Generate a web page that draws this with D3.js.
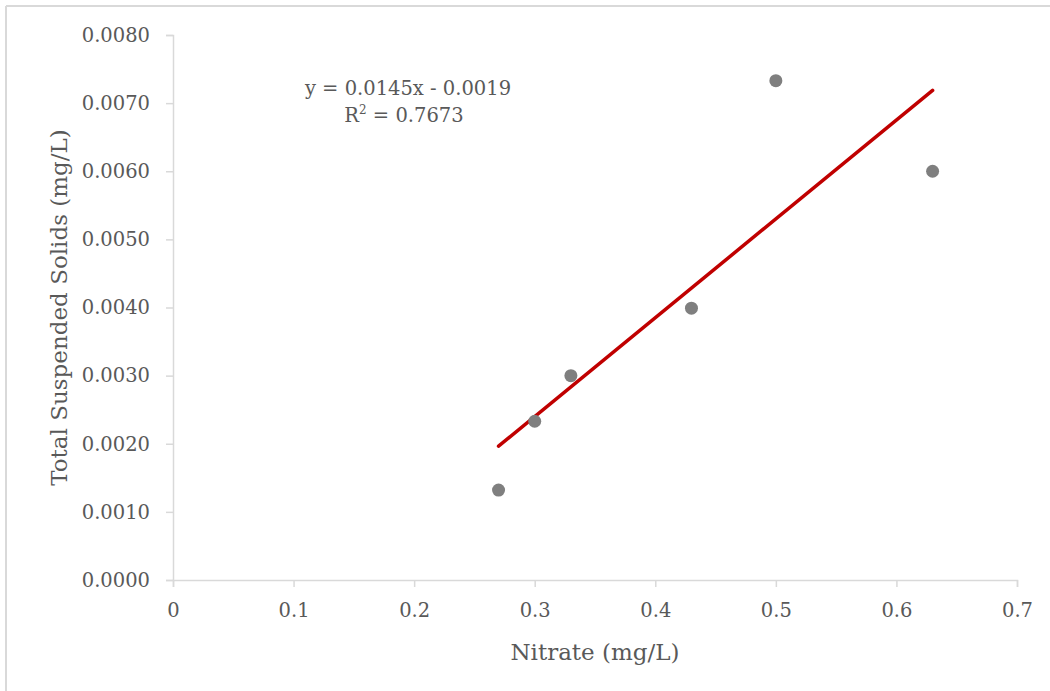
<!DOCTYPE html>
<html>
<head>
<meta charset="utf-8">
<script src="https://cdn.jsdelivr.net/npm/d3@7"></script>
<style>
  body { margin: 0; background: #fff; }
  text { font-family: "DejaVu Serif", "Liberation Serif", serif; fill: #595959; }
</style>
</head>
<body>
<svg id="chart" width="1050" height="691"></svg>
<script>
// data
var nitrate = [0.27, 0.30, 0.33, 0.43, 0.50, 0.63];
var tss = [0.00132, 0.00233, 0.00300, 0.00399, 0.00733, 0.00600];
var xTicks = [0, 0.1, 0.2, 0.3, 0.4, 0.5, 0.6, 0.7];
var yTicks = [0, 0.001, 0.002, 0.003, 0.004, 0.005, 0.006, 0.007, 0.008];
var eqLabel = ["y = 0.0145x - 0.0019", "0.7673"];

var svg = d3.select("#chart");

// outer chart frame (top and left edges visible)
svg.append("line").attr("x1", 6).attr("y1", 6).attr("x2", 1050).attr("y2", 6)
  .attr("stroke", "#d9d9d9").attr("stroke-width", 2);
svg.append("line").attr("x1", 6).attr("y1", 6).attr("x2", 6).attr("y2", 691)
  .attr("stroke", "#d9d9d9").attr("stroke-width", 2);

var x = d3.scaleLinear().domain([0, 0.7]).range([173, 1017]);
var y = d3.scaleLinear().domain([0, 0.008]).range([580, 35]);

//************************ axes *************************/
var yAxis = svg.append("g")
  .attr("transform", "translate(" + x(0) + ",0)")
  .call(d3.axisLeft(y).tickValues(yTicks).tickSize(7).tickPadding(16)
    .tickFormat(d3.format(".4f")));

var xAxis = svg.append("g")
  .attr("transform", "translate(0," + y(0) + ")")
  .call(d3.axisBottom(x).tickValues(xTicks).tickSize(7).tickPadding(16)
    .tickFormat(d => d === 0 ? "0" : d3.format(".1f")(d)));

[xAxis, yAxis].forEach(function(a) {
  a.select(".domain").attr("stroke", "#d9d9d9").attr("stroke-width", 1.5);
  a.selectAll(".tick line").attr("stroke", "#d9d9d9").attr("stroke-width", 1.5);
  a.selectAll(".tick text").attr("font-size", 19.5).attr("fill", "#595959")
    .style("font-family", "'DejaVu Serif', serif");
});

// axis titles
svg.append("text")
  .attr("x", x(0.35)).attr("y", 660)
  .attr("text-anchor", "middle").attr("font-size", 23)
  .text("Nitrate (mg/L)");

svg.append("text")
  .attr("transform", "translate(67," + y(0.004) + ") rotate(-90)")
  .attr("text-anchor", "middle").attr("font-size", 23)
  .text("Total Suspended Solids (mg/L)");

//************************ trend line (least squares) *************************/
var mx = d3.mean(nitrate), my = d3.mean(tss);
var sxy = d3.sum(nitrate, (d, i) => (d - mx) * (tss[i] - my));
var sxx = d3.sum(nitrate, d => (d - mx) * (d - mx));
var slope = sxy / sxx, intercept = my - slope * mx;

var xExtent = d3.extent(nitrate);
svg.append("line")
  .attr("x1", x(xExtent[0])).attr("y1", y(slope * xExtent[0] + intercept))
  .attr("x2", x(xExtent[1])).attr("y2", y(slope * xExtent[1] + intercept))
  .attr("stroke", "#c00000").attr("stroke-width", 3.5)
  .attr("stroke-linecap", "round");

//************************ points *************************/
svg.append("g").selectAll("circle")
  .data(nitrate)
  .enter().append("circle")
  .attr("cx", d => x(d))
  .attr("cy", (d, i) => y(tss[i]))
  .attr("r", 6.5)
  .attr("fill", "#7f7f7f");

//************************ equation label *************************/
svg.append("text").attr("text-anchor", "middle").attr("font-size", 19.5)
  .attr("x", 408).attr("y", 95)
  .text(eqLabel[0]);
var r2 = svg.append("text").attr("text-anchor", "middle").attr("font-size", 19.5)
  .attr("x", 404).attr("y", 122);
r2.append("tspan").text("R");
r2.append("tspan").attr("font-size", 12).attr("dy", -8).text("2");
r2.append("tspan").attr("dy", 8).text(" = " + eqLabel[1]);
</script>
</body>
</html>
